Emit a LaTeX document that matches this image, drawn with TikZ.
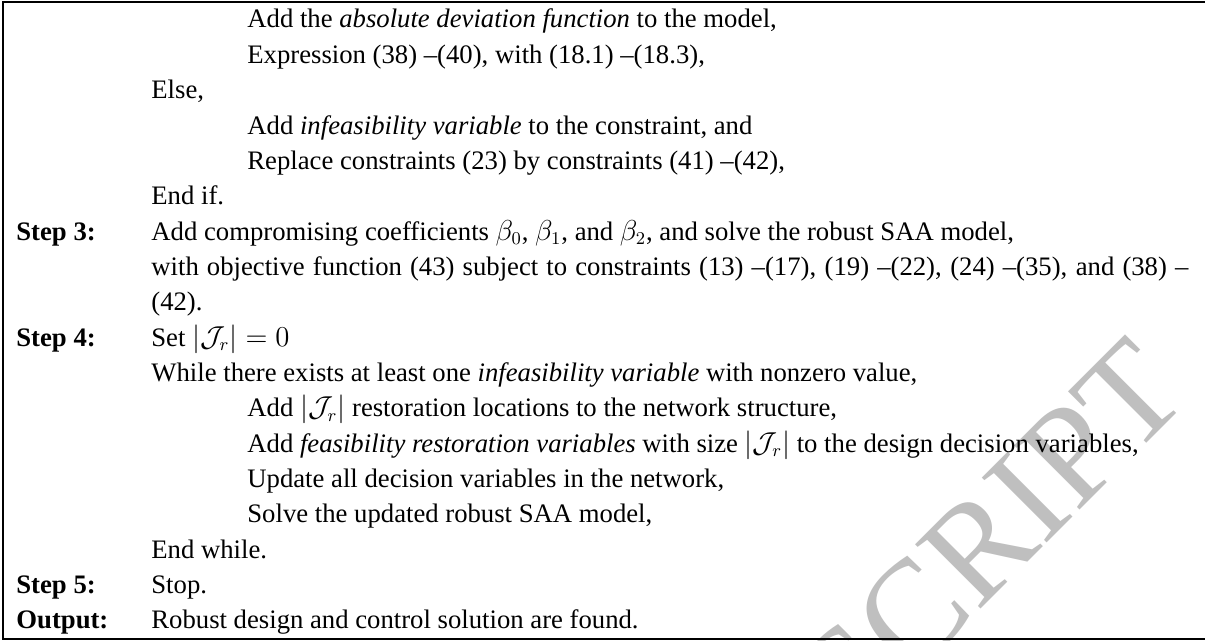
\documentclass[tikz,border=0pt]{standalone}
\usepackage{fontspec}
\setmainfont{Liberation Serif}
\begin{document}
\begin{tikzpicture}[x=0.5pt,y=-0.5pt,
  txt/.style={anchor=base west,inner sep=0pt,font=\fontsize{13.35pt}{16pt}\selectfont},
  lbl/.style={txt,font=\fontsize{13.35pt}{16pt}\selectfont\bfseries},
  wm/.style={anchor=base east,inner sep=0pt,text=black!25,rotate=45,font=\fontsize{70pt}{72pt}\selectfont},
  frame/.style={line width=1pt}]
\useasboundingbox (0,0) rectangle (1205,641);
\begin{scope}
\clip (0,0) rectangle (1205,641);
\node[wm] (wmark) at (1192,398) {ACCEPTED MANUSCRIPT};
\end{scope}
\draw[frame] (1205,2) -- (3,2) -- (3,639) -- (1205,639);
\def\xa{16}\def\xb{151}\def\xc{247}
\node[txt] (l0) at (\xc,28) {Add the \emph{absolute deviation function} to the model,};
\node[txt] (l1) at (\xc,63.35) {Expression (38) –(40), with (18.1) –(18.3),};
\node[txt] (l2) at (\xb,98.7) {Else,};
\node[txt] (l3) at (\xc,134.05) {Add \emph{infeasibility variable} to the constraint, and};
\node[txt] (l4) at (\xc,169.4) {Replace constraints (23) by constraints (41) –(42),};
\node[txt] (l5) at (\xb,204.75) {End if.};
\node[lbl] (s3) at (\xa,240.1) {Step 3:};
\node[txt] (l6) at (\xb,240.1) {Add compromising coefficients $\beta_0$, $\beta_1$, and $\beta_2$, and solve the robust SAA model,};
\node[txt] (l7) at (\xb,275.45) {\makebox[518.5pt][s]{with objective function (43) subject to constraints (13) –(17), (19) –(22), (24) –(35), and (38) –}};
\node[txt] (l8) at (\xb,310.8) {(42).};
\node[lbl] (s4) at (\xa,346.15) {Step 4:};
\node[txt] (l9) at (\xb,346.15) {Set $|\mathcal{J}_r| = 0$};
\node[txt] (l10) at (\xb,381.5) {While there exists at least one \emph{infeasibility variable} with nonzero value,};
\node[txt] (l11) at (\xc,416.85) {Add $|\mathcal{J}_r|$ restoration locations to the network structure,};
\node[txt] (l12) at (\xc,452.2) {Add \emph{feasibility restoration variables} with size $|\mathcal{J}_r|$ to the design decision variables,};
\node[txt] (l13) at (\xc,487.55) {Update all decision variables in the network,};
\node[txt] (l14) at (\xc,522.9) {Solve the updated robust SAA model,};
\node[txt] (l15) at (\xb,558.25) {End while.};
\node[lbl] (s5) at (\xa,593.6) {Step 5:};
\node[txt] (l16) at (\xb,593.6) {Stop.};
\node[lbl] (out) at (\xa,628.95) {Output:};
\node[txt] (l17) at (\xb,628.95) {Robust design and control solution are found.};
\end{tikzpicture}
\end{document}
